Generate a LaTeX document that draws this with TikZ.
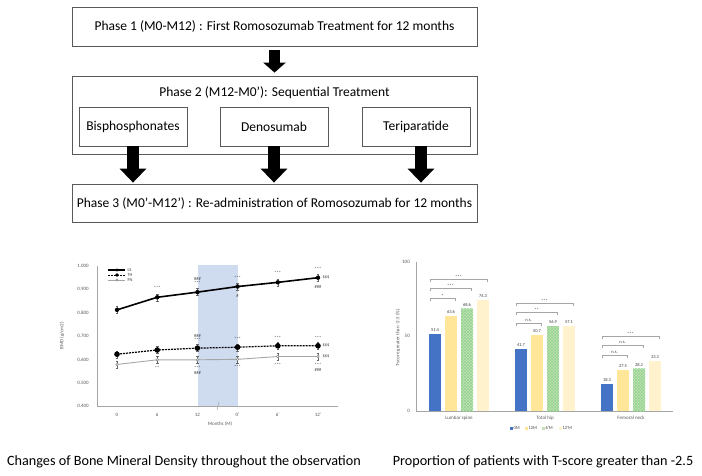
\documentclass[tikz,border=0pt]{standalone}
\usepackage{fontspec}
\setmainfont{Carlito}
\usetikzlibrary{arrows.meta, positioning, patterns}
\definecolor{cblue}{HTML}{4472C4}
\definecolor{cyellow}{HTML}{FFE699}
\definecolor{cgreen}{HTML}{C5E0B4}
\definecolor{cpale}{HTML}{FFF2CC}
\definecolor{cshade}{HTML}{CFDBEF}
\definecolor{caxis}{HTML}{A6A6A6}
\definecolor{cgrey}{HTML}{595959}
\tikzset{
  every picture/.style={x=1pt, y=-1pt},
  phase/.style={draw=cgrey, line width=0.8pt, minimum width=405pt, minimum height=39pt, font=\fontsize{13.5}{15}\selectfont},
  drug/.style={draw=cgrey, line width=0.8pt, minimum width=108pt, minimum height=39pt, font=\fontsize{13.5}{15}\selectfont},
  blockarrow/.style={-{Triangle[width=26pt,length=14pt]}, line width=12pt, draw=black},
  tiny/.style={font=\fontsize{4.5}{4.5}\selectfont, text=black!75, inner sep=0.3pt},
  ticklab/.style={font=\fontsize{5}{5}\selectfont, text=cgrey, inner sep=1pt},
  caption/.style={font=\fontsize{14.2}{16}\selectfont},
  bracket/.style={draw=caxis, line width=0.6pt},
}
\begin{document}
\begin{tikzpicture}
  \useasboundingbox (0,0) rectangle (702,476);
  % flow of the three phases
  \node[phase] (ph1) at (274.5,26.5) {Phase 1 (M0-M12) : First Romosozumab Treatment for 12 months};
  \node[phase, minimum height=78pt] (ph2) at (274.5,115) {};
  \node[font=\fontsize{13.5}{15}\selectfont, below=7pt of ph2.north] (ph2t) {Phase 2 (M12-M0'): Sequential Treatment};
  \node[drug] (bis) at (133,126.5) {Bisphosphonates};
  \node[drug] (deno) at (274,126.5) {Denosumab};
  \node[drug] (teri) at (416,126.5) {Teriparatide};
  \node[phase, minimum height=38pt] (ph3) at (274.5,203) {Phase 3 (M0'-M12') : Re-administration of Romosozumab for 12 months};
  \draw[blockarrow, line width=11pt, -{Triangle[width=22pt,length=10pt]}, shorten <=4pt, shorten >=3pt] (ph1.south) -- (ph2.north);
  \foreach \d/\dx in {bis/0, deno/0, teri/5}
    \draw[blockarrow, shorten >=1pt] ([xshift=\dx pt]\d.south) -- ([xshift=\dx pt]\d.south |- ph3.north);

  % BMD line chart
  \fill[cshade] (198,265) rectangle (238,406);
  \draw[caxis, line width=0.8pt] (97,266) -- (97,406) -- (338,406);
  \draw[caxis, line width=0.6pt] (217,410) -- (219,402);
  \foreach \lab [count=\k from 0] in {0.400,0.500,0.600,0.700,0.800,0.900,1.000}
    \node[ticklab] (yt\k) at (83,{406-23.33*\k}) {\lab};
  \foreach \lab [count=\k from 0] in {0,6,12,0',6',12'}
    \node[ticklab] (xt\k) at ({117+40.2*\k},415) {\lab};
  \node[ticklab] (xlab) at (220,424) {Months (M)};
  \node[ticklab, rotate=90] (ylab) at (62,336) {BMD (g/cm2)};
  \foreach \s/\vals in {ls/{0.812,0.866,0.888,0.912,0.930,0.950}, th/{0.622,0.640,0.648,0.652,0.658,0.658}, fn/{0.578,0.598,0.598,0.600,0.612,0.612}}
    \foreach \v [count=\k from 0] in \vals {
      \coordinate (\s\k) at ({117+40.2*\k},{406-(\v-0.4)*233.3});
      \draw[black!60, line width=0.4pt] ([yshift=-3.5pt]\s\k) -- ([yshift=3.5pt]\s\k)
        ([xshift=-1.3pt,yshift=-3.5pt]\s\k) -- ([xshift=1.3pt,yshift=-3.5pt]\s\k)
        ([xshift=-1.3pt,yshift=3.5pt]\s\k) -- ([xshift=1.3pt,yshift=3.5pt]\s\k);
    }
  \draw[caxis, line width=0.9pt] (fn0) -- (fn1) -- (fn2) -- (fn3) -- (fn4) -- (fn5);
  \draw[black, line width=1.2pt, dash pattern=on 2pt off 1pt] (th0) -- (th1) -- (th2) -- (th3) -- (th4) -- (th5);
  \draw[black, line width=1.6pt] (ls0) -- (ls1) -- (ls2) -- (ls3) -- (ls4) -- (ls5);
  \foreach \k in {0,...,5} {
    \fill[black] (ls\k) circle (2.2pt);
    \fill[black] (th\k) circle (2.8pt);
    \draw[caxis!80!black, fill=white, line width=0.5pt] (fn\k) circle (1.3pt);
  }
  % significance marks
  \foreach \p/\dy/\txt in {ls1/-9/***, ls2/-13/\#\#\#, ls2/-9/***, ls3/-9/***, ls3/9/\#, ls4/-9/***, ls5/-9/***, ls5/9/\#\#\#,
                           th2/-12/\#\#\#, th2/-8/***, th3/-8/***, th4/-8/***, th5/-8/***,
                           fn1/8/**, fn2/8/***, fn2/13/\#\#\#, fn3/8/***, fn4/8/***, fn5/8/***, fn5/13/\#\#\#}
    \node[tiny] at ([yshift=-\dy pt]\p) {\txt};
  \foreach \p in {ls5, th5, fn5}
    \node[tiny, anchor=west] at ([xshift=4pt]\p) {\$\$\$};
  % legend
  \foreach \s/\y/\lab in {ls/270/LS, th/275/TH, fn/280/FN} {
    \coordinate (lg\s) at (117,\y);
    \node[tiny, anchor=west] (lt\s) at (127,\y) {\lab};
  }
  \draw[black, line width=1.2pt] (108,270) -- (125,270);
  \draw[black, line width=0.9pt, dash pattern=on 2pt off 1pt] (108,275) -- (125,275);
  \draw[caxis, line width=0.8pt] (108,280) -- (125,280);
  \fill (lgls) circle (1.6pt) (lgth) circle (1.8pt);
  \draw[caxis!80!black, fill=white, line width=0.4pt] (lgfn) circle (1pt);
  \node[caption] (cap1) at (184,462) {Changes of Bone Mineral Density throughout the observation};

  % T-score bar chart
  \draw[caxis, line width=0.7pt] (416,262) -- (416,411) -- (673,411);
  \foreach \lab/\y in {100/262, 50/336, 0/411}
    \node[ticklab, anchor=east] at (411,\y) {\lab};
  \node[ticklab, rotate=90] (blab) at (398,338) {T-score greater than -2.5 (\%)};
  \foreach \g/\x/\name/\vals in {1/429/Lumbar spine/{51.4,63.6,68.6,74.3}, 2/515/Total hip/{41.7,50.7,56.9,57.1}, 3/601/Femoral neck/{18.3,27.5,28.2,33.3}} {
    \foreach \v [count=\b from 0] in \vals {
      \coordinate (b\g\b) at ({\x+16*\b},{411-1.49*\v});
      \ifnum\b=0 \fill[cblue] (b\g\b) rectangle ++(12,{1.49*\v});\fi
      \ifnum\b=1 \fill[cyellow] (b\g\b) rectangle ++(12,{1.49*\v});\fi
      \ifnum\b=2 \fill[cgreen] (b\g\b) rectangle ++(12,{1.49*\v});
                 \fill[pattern=crosshatch, pattern color=green!45!gray!60] (b\g\b) rectangle ++(12,{1.49*\v});\fi
      \ifnum\b=3 \fill[cpale] (b\g\b) rectangle ++(12,{1.49*\v});\fi
      \node[tiny, anchor=south] at ([xshift=6pt,yshift=2pt]b\g\b) {\v};
    }
    \node[ticklab] (cat\g) at (\x+30,418) {\name};
  }
  % brackets
  \foreach \g/\x/\ya/\yb/\yc/\la/\lb/\lc in {1/429/298/288/279/*/***/***, 2/515/323/312/303/n.s./**/***, 3/601/355/345/336/n.s./n.s./***} {
    \foreach \n/\y/\lab in {1/\ya/\la, 2/\yb/\lb, 3/\yc/\lc} {
      \draw[bracket] (\x+1,\y+3) -- (\x+1,\y) -- (\x+10+16*\n,\y) -- (\x+10+16*\n,\y+3);
      \node[tiny, anchor=south] at ({\x+5.5+8*\n},\y-0.5) {\lab};
    }
  }
  % legend
  \foreach \c/\x/\lab in {cblue/511/0M, cyellow/526/12M, cgreen/543/6'M, cpale/560/12'M} {
    \fill[\c] (\x-1.5,426.5) rectangle (\x+1.5,429.5);
    \node[tiny, anchor=west] at (\x+2,428) {\lab};
  }
  \node[caption] (cap2) at (543,462) {Proportion of patients with T-score greater than -2.5};
\end{tikzpicture}
\end{document}
